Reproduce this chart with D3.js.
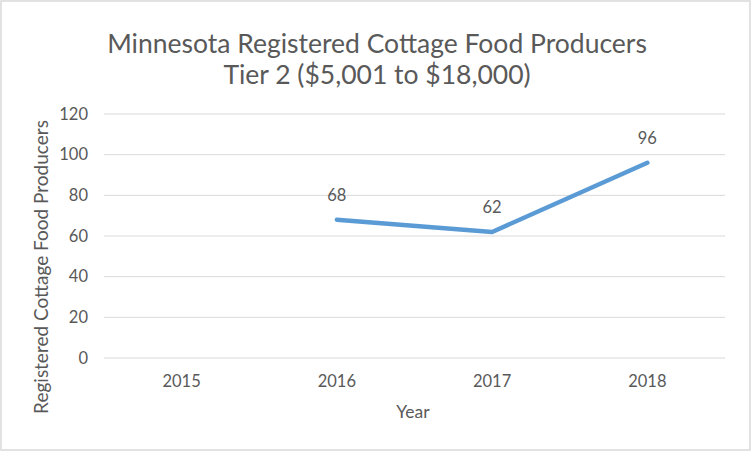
<!DOCTYPE html>
<html>
<head>
<meta charset="utf-8">
<script src="https://cdn.jsdelivr.net/npm/d3@7"></script>
<style>
  body { margin: 0; background: #fff; }
  text { font-family: Lato, "Open Sans", sans-serif; fill: #595959; }
</style>
</head>
<body>
<div id="chart"></div>
<script>
// chart values
var years = ["2015", "2016", "2017", "2018"];
var producers = [null, 68, 62, 96];
var yTicks = [0, 20, 40, 60, 80, 100, 120];
var titleLines = ["Minnesota Registered Cottage Food Producers", "Tier 2 ($5,001 to $18,000)"];

var width = 752, height = 452;
var margin = {left: 104, right: 27, top: 114, bottom: 94};

var svg = d3.select("#chart").append("svg")
  .attr("width", width)
  .attr("height", height);

// outer chart border
svg.append("rect")
  .attr("x", 1).attr("y", 1)
  .attr("width", width - 3).attr("height", height - 3)
  .attr("fill", "#fff")
  .attr("stroke", "#d9d9d9")
  .attr("stroke-width", 1.5);

let x = d3.scaleBand()
  .domain(years)
  .range([margin.left, width - margin.right]);

let y = d3.scaleLinear()
  .domain([0, 120])
  .range([height - margin.bottom, margin.top]);

// gridlines
svg.append("g")
  .selectAll("line")
  .data(yTicks)
  .enter().append("line")
  .attr("x1", margin.left)
  .attr("x2", width - margin.right)
  .attr("y1", d => y(d))
  .attr("y2", d => y(d))
  .attr("stroke", "#d9d9d9")
  .attr("stroke-width", 1);

// y axis labels
let yAxis = svg.append("g")
  .attr("transform", "translate(" + (margin.left - 16) + ",0)")
  .call(d3.axisLeft(y).tickValues(yTicks).tickSize(0).tickPadding(0));
yAxis.select(".domain").remove();
yAxis.selectAll("text")
  .attr("font-size", 16.5)
  .attr("font-family", "Lato, sans-serif")
  .attr("fill", "#595959");

// x axis labels
let xAxis = svg.append("g")
  .attr("transform", "translate(0," + (height - margin.bottom) + ")")
  .call(d3.axisBottom(x).tickSize(0).tickPadding(17));
xAxis.select(".domain").remove();
xAxis.selectAll("text")
  .attr("font-size", 16.5)
  .attr("font-family", "Lato, sans-serif")
  .attr("fill", "#595959");

// the series line
let line = d3.line()
  .defined(d => d.value !== null)
  .x(d => x(d.year) + x.bandwidth() / 2)
  .y(d => y(d.value));

let points = years.map((yr, i) => ({year: yr, value: producers[i]}));

svg.append("path")
  .datum(points)
  .attr("d", line)
  .attr("fill", "none")
  .attr("stroke", "#5b9bd5")
  .attr("stroke-width", 4.5)
  .attr("stroke-linejoin", "round")
  .attr("stroke-linecap", "round");

// data labels
svg.append("g")
  .selectAll("text")
  .data(points.filter(d => d.value !== null))
  .enter().append("text")
  .attr("x", d => x(d.year) + x.bandwidth() / 2)
  .attr("y", d => y(d.value) - 19)
  .attr("text-anchor", "middle")
  .attr("font-size", 16.5)
  .text(d => d.value);

// title
svg.append("g")
  .selectAll("text")
  .data(titleLines)
  .enter().append("text")
  .attr("x", 377)
  .attr("y", (d, i) => 53 + i * 31)
  .attr("text-anchor", "middle")
  .attr("font-size", 26.5)
  .text(d => d);

// axis titles
svg.append("text")
  .attr("x", 413)
  .attr("y", 418)
  .attr("text-anchor", "middle")
  .attr("font-size", 17.5)
  .text("Year");

svg.append("text")
  .attr("transform", "translate(48,267) rotate(-90)")
  .attr("text-anchor", "middle")
  .attr("font-size", 19)
  .text("Registered Cottage Food Producers");
</script>
</body>
</html>
